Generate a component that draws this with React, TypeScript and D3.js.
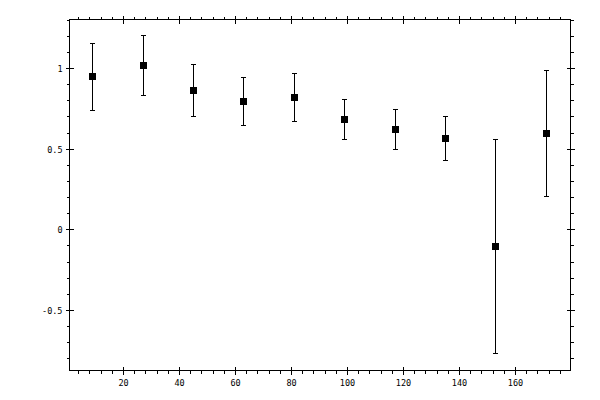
import React, { useRef, useEffect } from 'react';
import * as d3 from 'd3';

// data
const xValues = [9, 27, 45, 63, 81, 99, 117, 135, 153, 171];
const yValues = [0.95, 1.019, 0.864, 0.796, 0.821, 0.684, 0.622, 0.567, -0.103, 0.598];
const yUpper = [1.153, 1.205, 1.025, 0.945, 0.97, 0.808, 0.746, 0.703, 0.56, 0.988];
const yLower = [0.74, 0.833, 0.703, 0.647, 0.672, 0.56, 0.498, 0.43, -0.766, 0.207];

const xMajorTicks = [20, 40, 60, 80, 100, 120, 140, 160];
const xMajorLabels = ['20', '40', '60', '80', '100', '120', '140', '160'];
const yMajorTicks = [-0.5, 0, 0.5, 1];
const yMajorLabels = ['-0.5', '0', '0.5', '1'];

const xDomain: [number, number] = [0.714, 179.64];
const yDomain: [number, number] = [-0.872, 1.304];

export default function App() {
    const svgRef = useRef<SVGSVGElement>(null);

    useEffect(() => {
        if (!svgRef.current) return;
        const width = 600;
        const height = 400;
        const plot = { left: 69.5, right: 570.5, top: 19.5, bottom: 370.5 };

        const svg = d3.select(svgRef.current);
        svg.selectAll('*').remove();

        svg.append('rect').attr('width', width).attr('height', height).attr('fill', '#fff');

        const x = d3.scaleLinear().domain(xDomain).range([plot.left, plot.right]);
        const y = d3.scaleLinear().domain(yDomain).range([plot.bottom, plot.top]);
        // snap to the middle of a pixel so 1px lines stay crisp
        const snap = (v: number) => Math.round(v - 0.5) + 0.5;

        const g = svg.append('g').attr('shape-rendering', 'crispEdges');

        // frame
        g.append('rect')
            .attr('x', plot.left)
            .attr('y', plot.top)
            .attr('width', plot.right - plot.left)
            .attr('height', plot.bottom - plot.top)
            .attr('fill', 'none')
            .attr('stroke', '#000');

        const xMinor = d3.range(4, 180, 4).filter(v => v % 20 !== 0 && v > xDomain[0] && v < xDomain[1]);
        const yMinor = d3.range(-8, 14)
            .map(v => v / 10)
            .filter(v => Math.abs(v * 2 - Math.round(v * 2)) > 1e-6 && v > yDomain[0] && v <= yDomain[1] + 1e-6);

        const minorLen = 3;
        const majorOut = 4;
        const majorIn = 4;

        // x ticks on bottom and top
        xMinor.forEach(v => {
            const px = snap(x(v));
            g.append('line').attr('x1', px).attr('x2', px).attr('y1', plot.bottom).attr('y2', plot.bottom + minorLen).attr('stroke', '#000');
            g.append('line').attr('x1', px).attr('x2', px).attr('y1', plot.top).attr('y2', plot.top - minorLen).attr('stroke', '#000');
        });
        xMajorTicks.forEach((v, i) => {
            const px = snap(x(v));
            g.append('line').attr('x1', px).attr('x2', px).attr('y1', plot.bottom - majorIn).attr('y2', plot.bottom + majorOut).attr('stroke', '#000');
            g.append('line').attr('x1', px).attr('x2', px).attr('y1', plot.top - majorOut).attr('y2', plot.top + majorIn).attr('stroke', '#000');
            svg.append('text')
                .attr('x', px)
                .attr('y', plot.bottom + 15)
                .attr('text-anchor', 'middle')
                .attr('font-family', 'DejaVu Sans Mono')
                .attr('font-size', '8.5px')
                .attr('fill', '#000')
                .text(xMajorLabels[i]);
        });

        // y ticks on left and right
        yMinor.forEach(v => {
            const py = snap(y(v));
            g.append('line').attr('y1', py).attr('y2', py).attr('x1', plot.left).attr('x2', plot.left - minorLen).attr('stroke', '#000');
            g.append('line').attr('y1', py).attr('y2', py).attr('x1', plot.right).attr('x2', plot.right + minorLen).attr('stroke', '#000');
        });
        yMajorTicks.forEach((v, i) => {
            const py = snap(y(v));
            g.append('line').attr('y1', py).attr('y2', py).attr('x1', plot.left - majorOut).attr('x2', plot.left + majorIn).attr('stroke', '#000');
            g.append('line').attr('y1', py).attr('y2', py).attr('x1', plot.right - majorIn).attr('x2', plot.right + majorOut).attr('stroke', '#000');
            svg.append('text')
                .attr('x', plot.left - 7)
                .attr('y', py + 3)
                .attr('text-anchor', 'end')
                .attr('font-family', 'DejaVu Sans Mono')
                .attr('font-size', '8.5px')
                .attr('fill', '#000')
                .text(yMajorLabels[i]);
        });

        // error bars
        const cap = 2.5;
        xValues.forEach((xv, i) => {
            const px = snap(x(xv));
            const top = snap(y(yUpper[i]));
            const bot = snap(y(yLower[i]));
            g.append('line').attr('x1', px).attr('x2', px).attr('y1', top).attr('y2', bot).attr('stroke', '#000');
            g.append('line').attr('x1', px - cap).attr('x2', px + cap).attr('y1', top).attr('y2', top).attr('stroke', '#000');
            g.append('line').attr('x1', px - cap).attr('x2', px + cap).attr('y1', bot).attr('y2', bot).attr('stroke', '#000');
        });

        // square markers
        const size = 7;
        g.selectAll('.pt')
            .data(xValues)
            .enter()
            .append('rect')
            .attr('class', 'pt')
            .attr('x', d => snap(x(d)) - size / 2)
            .attr('y', (d, i) => snap(y(yValues[i])) - size / 2)
            .attr('width', size)
            .attr('height', size)
            .attr('fill', '#000');
    }, []);

    return (
        <svg
            ref={svgRef}
            width={600}
            height={400}
            style={{ position: 'absolute', left: 0, top: 0 }}
        />
    );
}
